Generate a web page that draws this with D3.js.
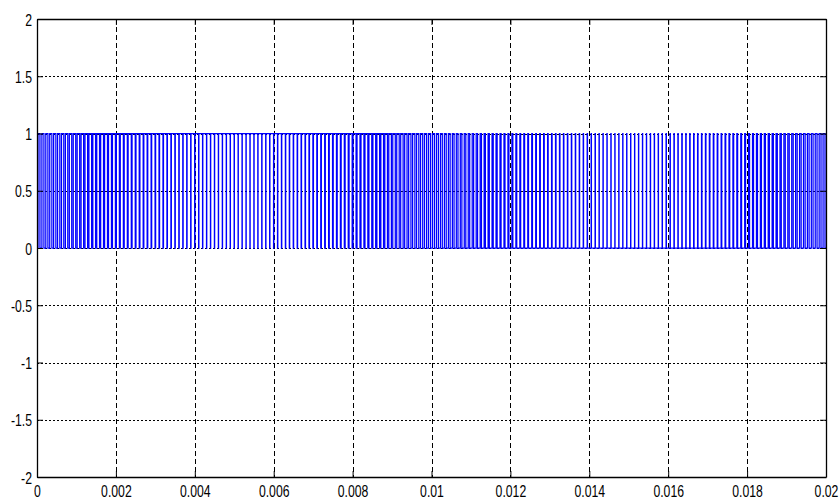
<!DOCTYPE html>
<html>
<head>
<meta charset="utf-8">
<script src="https://cdn.jsdelivr.net/npm/d3@7/dist/d3.min.js"></script>
<style>
  html, body { margin: 0; padding: 0; background: #fff; }
  svg { display: block; }
  .lbl { font-family: "Liberation Sans", Arial, sans-serif; font-size: 17px; fill: #000; }
</style>
</head>
<body>
<svg id="chart" width="840" height="499"></svg>
<script>
// PWM gate signal: one duty-cycle value per 0.1 ms carrier period over 20 ms
const carrierPeriod = 0.0001;
const dutyCycle = [
  0.50,0.51,0.53,0.54,0.56,0.57,0.58,0.60,0.61,0.63,
  0.64,0.65,0.67,0.68,0.69,0.70,0.72,0.73,0.74,0.75,
  0.76,0.78,0.79,0.80,0.81,0.82,0.83,0.84,0.85,0.86,
  0.86,0.87,0.88,0.89,0.89,0.90,0.91,0.91,0.92,0.92,
  0.93,0.93,0.94,0.94,0.94,0.94,0.95,0.95,0.95,0.95,
  0.95,0.95,0.95,0.95,0.95,0.94,0.94,0.94,0.94,0.93,
  0.93,0.92,0.92,0.91,0.91,0.90,0.89,0.89,0.88,0.87,
  0.86,0.86,0.85,0.84,0.83,0.82,0.81,0.80,0.79,0.78,
  0.76,0.75,0.74,0.73,0.72,0.70,0.69,0.68,0.67,0.65,
  0.64,0.63,0.61,0.60,0.58,0.57,0.56,0.54,0.53,0.51,
  0.50,0.49,0.47,0.46,0.44,0.43,0.42,0.40,0.39,0.37,
  0.36,0.35,0.33,0.32,0.31,0.30,0.28,0.27,0.26,0.25,
  0.24,0.22,0.21,0.20,0.19,0.18,0.17,0.16,0.15,0.14,
  0.14,0.13,0.12,0.11,0.11,0.10,0.09,0.09,0.08,0.08,
  0.07,0.07,0.06,0.06,0.06,0.06,0.05,0.05,0.05,0.05,
  0.05,0.05,0.05,0.05,0.05,0.06,0.06,0.06,0.06,0.07,
  0.07,0.08,0.08,0.09,0.09,0.10,0.11,0.11,0.12,0.13,
  0.14,0.14,0.15,0.16,0.17,0.18,0.19,0.20,0.21,0.22,
  0.24,0.25,0.26,0.27,0.28,0.30,0.31,0.32,0.33,0.35,
  0.36,0.37,0.39,0.40,0.42,0.43,0.44,0.46,0.47,0.49
];
const pulseLow = 0;
const pulseHigh = 1;

const xTicks = [0, 0.002, 0.004, 0.006, 0.008, 0.01, 0.012, 0.014, 0.016, 0.018, 0.02];
const xTickLabels = ["0","0.002","0.004","0.006","0.008","0.01","0.012","0.014","0.016","0.018","0.02"];
const yTicks = [-2, -1.5, -1, -0.5, 0, 0.5, 1, 1.5, 2];
const yTickLabels = ["-2","-1.5","-1","-0.5","0","0.5","1","1.5","2"];
const xDomain = [0, 0.02];
const yDomain = [-2, 2];

const svg = d3.select("#chart");
const plotL = 37, plotR = 826, plotT = 19, plotB = 477;

const x = d3.scaleLinear().domain(xDomain).range([plotL, plotR]);
const y = d3.scaleLinear().domain(yDomain).range([plotB, plotT]);

// dotted grid
const grid = svg.append("g");
grid.selectAll("line.vg").data(xTicks.slice(1, -1)).join("line")
  .attr("x1", d => Math.round(x(d)) + 0.5).attr("x2", d => Math.round(x(d)) + 0.5)
  .attr("y1", plotT).attr("y2", plotB)
  .attr("stroke", "#000").attr("stroke-width", 1)
  .attr("stroke-dasharray", "5,3");
grid.selectAll("line.hg").data(yTicks.slice(1, -1)).join("line")
  .attr("x1", plotL).attr("x2", plotR)
  .attr("y1", d => Math.round(y(d)) + 0.5).attr("y2", d => Math.round(y(d)) + 0.5)
  .attr("stroke", "#000").attr("stroke-width", 1)
  .attr("stroke-dasharray", "2,2");

// step points: center-aligned pulse in each carrier period
const pts = [];
dutyCycle.forEach((dc, k) => {
  const t0 = k * carrierPeriod;
  pts.push([t0, pulseLow]);
  pts.push([t0 + carrierPeriod * (1 - dc) / 2, pulseHigh]);
  pts.push([t0 + carrierPeriod * (1 + dc) / 2, pulseLow]);
});
pts.push([dutyCycle.length * carrierPeriod, pulseLow]);

const line = d3.line()
  .x(d => x(d[0]))
  .y(d => y(d[1]))
  .curve(d3.curveStepAfter);

svg.append("path")
  .attr("d", line(pts))
  .attr("fill", "none")
  .attr("stroke", "#0000ff")
  .attr("stroke-width", 1.25);

// axes with inward ticks
const fmtX = d => xTickLabels[xTicks.indexOf(d)];
const fmtY = d => yTickLabels[yTicks.indexOf(d)];

const gx = svg.append("g").attr("transform", `translate(0,${plotB})`)
  .call(d3.axisBottom(x).tickValues(xTicks).tickFormat(fmtX).tickSizeInner(-6).tickSizeOuter(0));
const gxTop = svg.append("g").attr("transform", `translate(0,${plotT})`)
  .call(d3.axisTop(x).tickValues(xTicks).tickFormat("").tickSizeInner(-6).tickSizeOuter(0));
const gy = svg.append("g").attr("transform", `translate(${plotL},0)`)
  .call(d3.axisLeft(y).tickValues(yTicks).tickFormat(fmtY).tickSizeInner(-6).tickSizeOuter(0));
const gyRight = svg.append("g").attr("transform", `translate(${plotR},0)`)
  .call(d3.axisRight(y).tickValues(yTicks).tickFormat("").tickSizeInner(-6).tickSizeOuter(0));

[gx, gxTop, gy, gyRight].forEach(g => {
  g.select(".domain").attr("stroke", "#000").attr("stroke-width", 1.3);
  g.selectAll(".tick line").attr("stroke", "#000").attr("stroke-width", 1);
});

gx.selectAll(".tick text")
  .attr("class", "lbl")
  .attr("y", 0).attr("dy", 0)
  .attr("transform", "translate(0,20) scale(0.72,1)")
  .attr("text-anchor", "middle")
  .attr("font-family", null).attr("font-size", null);

gy.selectAll(".tick text")
  .attr("class", "lbl")
  .attr("x", 0).attr("dy", 0)
  .attr("transform", "translate(-5,6) scale(0.72,1)")
  .attr("text-anchor", "end")
  .attr("font-family", null).attr("font-size", null);
</script>
</body>
</html>
